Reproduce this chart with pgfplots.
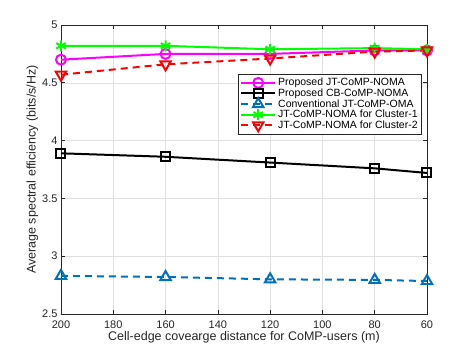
\documentclass[border=0pt]{standalone}
\usepackage{fontspec}
\setmainfont{Liberation Sans}
\usepackage{pgfplots}
\pgfplotsset{compat=1.18}
\definecolor{mblue}{rgb}{0,0.447,0.741}
\definecolor{mmag}{rgb}{1,0,1}
\definecolor{mgreen}{rgb}{0,1,0}
\definecolor{mred}{rgb}{1,0,0}
\definecolor{axgray}{RGB}{38,38,38}
\begin{document}
\begin{tikzpicture}
\begin{axis}[
    name=ax,
    scale only axis,
    width=366pt, height=289pt,
    x dir=reverse,
    xmin=60, xmax=200, ymin=2.5, ymax=5,
    xtick={60,80,...,200},
    ytick={2.5,3,3.5,4,4.5,5},
    /pgf/number format/assume math mode=true,
    tick label style={font=\fontsize{11}{13}\selectfont, color=axgray},
    xticklabel style={yshift=-3pt},
    yticklabel style={xshift=0pt},
    label style={font=\fontsize{12.5}{14}\selectfont, color=axgray},
    xlabel={Cell-edge covearge distance for CoMP-users (m)},
    ylabel={Average spectral efficiency (bits/s/Hz)},
    xlabel style={yshift=4pt},
    ylabel style={yshift=-3pt},
    grid=major, grid style={black!12, line width=0.5pt},
    axis line style={axgray, line width=0.6pt},
    tick style={axgray, line width=0.6pt},
    tick align=inside,
    legend style={at={(0.986,0.83)}, anchor=north east, draw=axgray,
        font=\fontsize{10.5}{12}\selectfont, row sep=-2.5pt, inner sep=2pt,
        cells={anchor=west}},
    legend image code/.code={\draw[mark repeat=2,mark phase=2,#1]
        plot coordinates {(0pt,0pt) (17pt,0pt) (34pt,0pt)};},
    every axis plot/.append style={line width=2pt, mark size=5pt},
    dashstyle/.style={dash pattern=on 7pt off 5pt},
]
\addplot[mmag, mark=o, mark options={fill=none}] coordinates {(200,4.70) (160,4.75) (120,4.75) (80,4.78) (60,4.78)};
\addplot[black, mark=square, mark options={fill=none, mark size=4.5pt}] coordinates {(200,3.89) (160,3.86) (120,3.81) (80,3.76) (60,3.72)};
\addplot[mblue, dashstyle, mark=triangle, mark options={solid, fill=none, mark size=6pt}] coordinates {(200,2.83) (160,2.82) (120,2.80) (80,2.795) (60,2.785)};
\addplot[mgreen, mark=asterisk, mark options={mark size=5.5pt}] coordinates {(200,4.82) (160,4.82) (120,4.79) (80,4.80) (60,4.79)};
\addplot[mred, dashstyle, mark=triangle, mark options={solid, fill=none, rotate=180, mark size=6pt}] coordinates {(200,4.57) (160,4.66) (120,4.71) (80,4.77) (60,4.78)};
\legend{Proposed JT-CoMP-NOMA, Proposed CB-CoMP-NOMA, Conventional JT-CoMP-OMA, JT-CoMP-NOMA for Cluster-1, JT-CoMP-NOMA for Cluster-2}
\end{axis}
\pgfresetboundingbox
\path[use as bounding box] ([xshift=-61pt,yshift=-39pt]ax.south west) rectangle ([xshift=44pt,yshift=25pt]ax.north east);
\end{tikzpicture}
\end{document}
